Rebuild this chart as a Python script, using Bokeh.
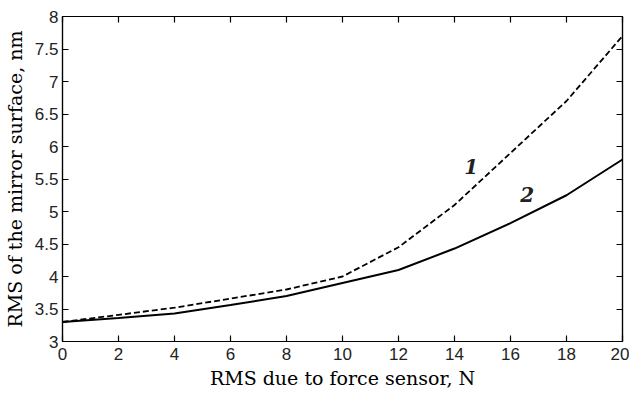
from bokeh.plotting import figure
from bokeh.models import LinearAxis, FixedTicker, Range1d, Label, CustomJSTickFormatter
from bokeh.embed import file_html
from bokeh.resources import INLINE

# ---- data ----
force_rms = [0, 2, 4, 6, 8, 10, 12, 14, 16, 18, 20]
curve1 = [3.30, 3.41, 3.52, 3.66, 3.80, 4.00, 4.45, 5.10, 5.90, 6.70, 7.70]
curve2 = [3.30, 3.36, 3.43, 3.56, 3.70, 3.90, 4.10, 4.43, 4.82, 5.25, 5.80]
curve_names = ["1", "2"]
x_ticks = [0, 2, 4, 6, 8, 10, 12, 14, 16, 18, 20]
y_ticks = [3, 3.5, 4, 4.5, 5, 5.5, 6, 6.5, 7, 7.5, 8]
y_tick_labels = ["3", "3.5", "4", "4.5", "5", "5.5", "6", "6.5", "7", "7.5", "8"]
x_title = "RMS due to force sensor, N"
y_title = "RMS of the mirror surface, nm"

TICK_FONT = "Liberation Sans"
TITLE_FONT = "DejaVu Serif"

p = figure(width=629, height=396, output_backend="svg", toolbar_location=None,
           x_range=Range1d(0, 20), y_range=Range1d(3, 8),
           min_border_left=62, min_border_right=7, min_border_top=16, min_border_bottom=55)
p.background_fill_color = "white"
p.border_fill_color = "white"
p.outline_line_color = "black"
p.outline_line_width = 1.2
p.xgrid.visible = False
p.ygrid.visible = False

p.line(force_rms, curve1, line_color="black", line_width=1.8, line_dash="6 3")
p.line(force_rms, curve2, line_color="black", line_width=2)

def style_axis(ax, show_labels):
    ax.axis_line_color = "black"
    ax.axis_line_width = 1.2
    ax.major_tick_in = 6
    ax.major_tick_out = 0
    ax.minor_tick_in = 0
    ax.minor_tick_out = 0
    ax.major_tick_line_color = "black"
    ax.major_tick_line_width = 1.2
    if show_labels:
        ax.major_label_text_font = TICK_FONT
        ax.major_label_text_font_size = "17px"
        ax.major_label_text_color = "#222222"
        ax.axis_label_text_font = TITLE_FONT
        ax.axis_label_text_font_size = "19px"
        ax.axis_label_text_font_style = "normal"
        ax.axis_label_text_color = "black"
    else:
        ax.formatter = CustomJSTickFormatter(code="return ''")
        ax.major_label_standoff = 0

xa = p.xaxis[0]
xa.ticker = FixedTicker(ticks=x_ticks)
xa.axis_label = x_title
style_axis(xa, True)
xa.major_label_standoff = 6
xa.axis_label_standoff = 4

ya = p.yaxis[0]
ya.ticker = FixedTicker(ticks=y_ticks)
ya.major_label_overrides = {t: s for t, s in zip(y_ticks, y_tick_labels)}
ya.axis_label = y_title
style_axis(ya, True)
ya.major_label_standoff = 4
ya.axis_label_standoff = 6

right = LinearAxis(ticker=FixedTicker(ticks=y_ticks))
style_axis(right, False)
p.add_layout(right, "right")
top = LinearAxis(ticker=FixedTicker(ticks=x_ticks))
style_axis(top, False)
p.add_layout(top, "above")

for name, lx, ly in zip(curve_names, [14.6, 16.6], [5.69, 5.26]):
    p.add_layout(Label(x=lx, y=ly, text=name, text_font=TITLE_FONT,
                       text_font_size="20px", text_font_style="bold italic",
                       text_align="center", text_baseline="middle",
                       text_color="#222222"))

open("out.html", "w").write(file_html(p, INLINE))
